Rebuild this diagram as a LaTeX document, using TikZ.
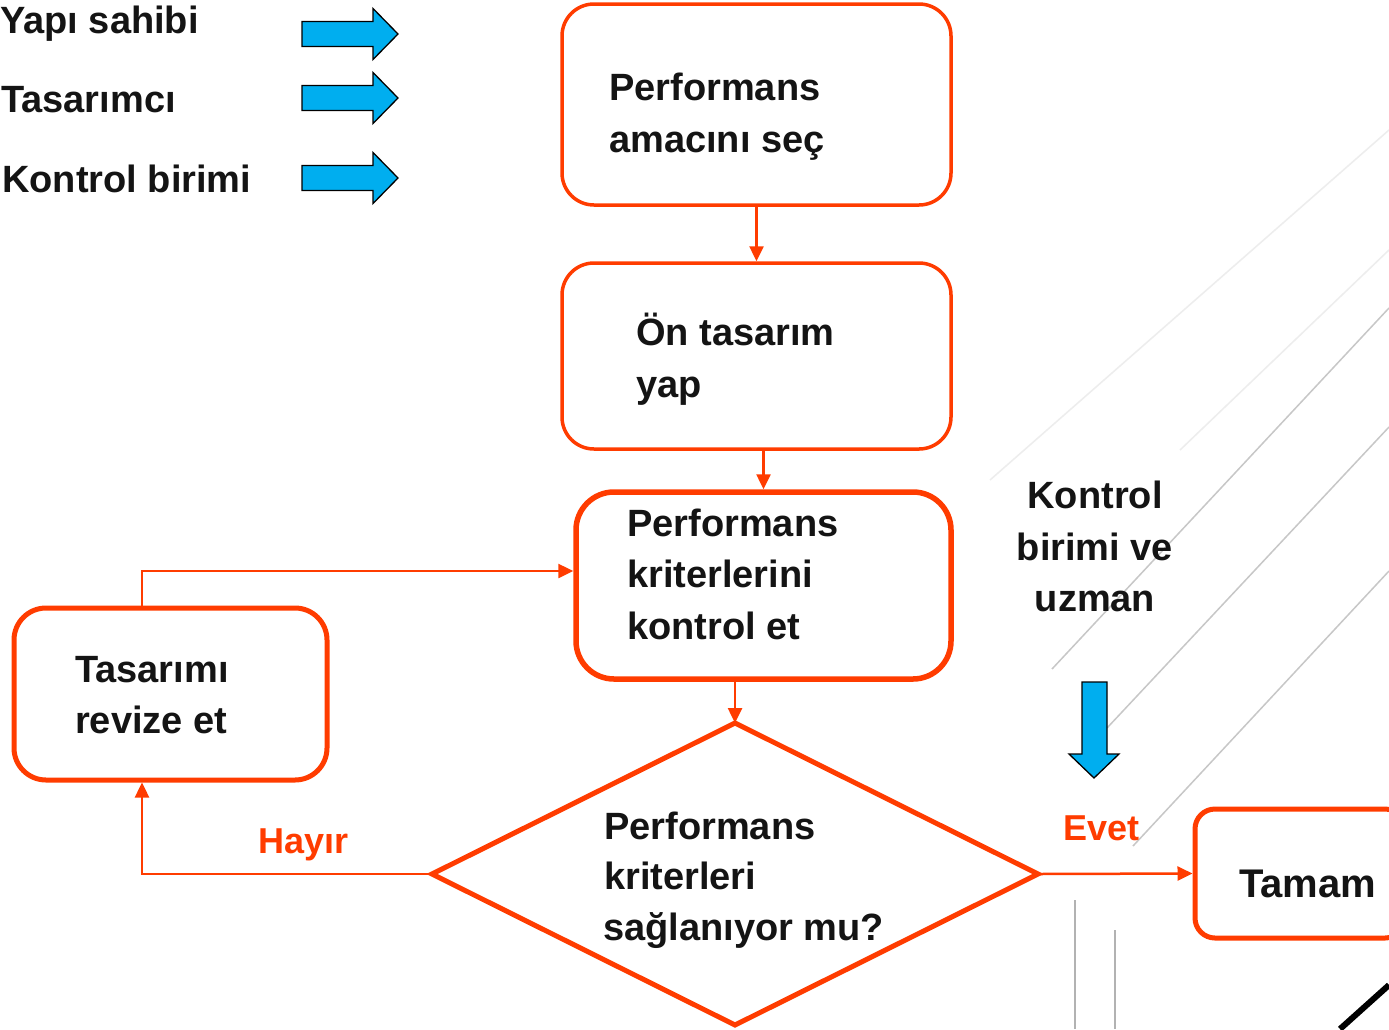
\documentclass[tikz,border=0pt]{standalone}
\usepackage{fontspec}
\setmainfont{Liberation Sans}
\usetikzlibrary{arrows.meta}
\definecolor{fred}{RGB}{255,60,0}
\definecolor{fblue}{RGB}{0,174,239}
\begin{document}
\begin{tikzpicture}[x=1pt,y=-1pt,
  box/.style={draw=fred, rounded corners=32pt, line width=3.5pt, inner sep=0pt},
  thickbox/.style={box, line width=5.5pt},
  conn/.style={draw=fred, line width=2.5pt, -{Triangle[length=15pt,width=14pt]}},
  txt/.style={font=\fontsize{38}{46}\selectfont\bfseries, inner sep=0pt, anchor=base west, text=black!92},
  redtxt/.style={txt, font=\fontsize{36}{44}\selectfont\bfseries, text=fred},
  bluearr/.style={fill=fblue, draw=black, line width=1.3pt, line join=miter},
  bgline/.style={draw=black!22, line width=1.5pt}
]
\useasboundingbox (0,0) rectangle (1389,1029);
\fill[white] (0,0) rectangle (1389,1029);

% faint background lines
\draw[bgline] (1052,669) -- (1389,308);
\draw[bgline] (1107,728) -- (1389,427);
\draw[bgline] (1133,846) -- (1389,571);
\draw[bgline, draw=black!7] (990,480) -- (1389,130);
\draw[bgline, draw=black!7] (1180,450) -- (1389,250);
\draw[bgline, draw=black!30] (1075,900) -- (1075,1029);
\draw[bgline, draw=black!30] (1115,930) -- (1115,1029);
\draw[draw=black, line width=6pt] (1340,1029) -- (1389,985);

% boxes
\node[box, minimum width=389pt, minimum height=201pt] (b1) at (756.5,104.5) {};
\node[box, minimum width=389pt, minimum height=186pt] (b2) at (756.5,356) {};
\node[thickbox, rounded corners=38pt, minimum width=375pt, minimum height=187pt] (b3) at (763.5,585.5) {};
\node[thickbox, line width=5pt, minimum width=313pt, minimum height=172pt] (b4) at (170.5,694) {};
\node[thickbox, line width=5pt, rounded corners=20pt, minimum width=210pt, minimum height=129pt] (tamam) at (1300,873.5) {};

% diamond
\coordinate (dtop) at (735,723);
\coordinate (dleft) at (432,874);
\coordinate (dright) at (1038,874);
\coordinate (dbot) at (735,1025);
\draw[draw=fred, line width=5pt, line join=miter] (dtop) -- (dright) -- (dbot) -- (dleft) -- cycle;

% texts
\node[txt] (t1a) at (609,100) {Performans};
\node[txt] (t1b) at (609,152) {amacını seç};
\node[txt] (t2a) at (636,345) {Ön tasarım};
\node[txt] (t2b) at (636,397) {yap};
\node[txt] (t3a) at (627,536) {Performans};
\node[txt] (t3b) at (627,587) {kriterlerini};
\node[txt] (t3c) at (627,639) {kontrol et};
\node[txt] (t4a) at (75,682) {Tasarımı};
\node[txt] (t4b) at (75,733) {revize et};
\node[txt] (tda) at (604,839) {Performans};
\node[txt] (tdb) at (604,889) {kriterleri};
\node[txt] (tdc) at (603,940) {sağlanıyor mu?};
\node[txt, font=\fontsize{40}{46}\selectfont\bfseries] (tt) at (1239,897) {Tamam};
\node[txt, anchor=base] (k1) at (1095,508) {Kontrol};
\node[txt, anchor=base] (k2) at (1095,560) {birimi ve};
\node[txt, anchor=base] (k3) at (1095,611) {uzman};
\node[txt] (l1) at (0,33) {Yapı sahibi};
\node[txt] (l2) at (1,112) {Tasarımcı};
\node[txt] (l3) at (2,192) {Kontrol birimi};
\node[redtxt] (hayir) at (258,853) {Hayır};
\node[redtxt] (evet) at (1063,840) {Evet};

% connectors
\draw[conn] (b1.south) -- (b2.north);
\draw[conn] (b3.north |- b2.south) -- (b3.north);
\draw[conn] (dtop |- b3.south) -- (dtop);
\coordinate (loopstart) at ([xshift=-28.5pt]b4.north);
\draw[conn] (loopstart) |- ([yshift=14.5pt]b3.west);
\coordinate (hayirend) at ([xshift=-28.5pt]b4.south);
\draw[conn] (dleft) -| (hayirend);
\draw[conn] (dright) -- (tamam.west);

% blue block arrows
\foreach \c in {34,98,178}
  \draw[bluearr] (302,\c-12.5) -- (373,\c-12.5) -- (373,\c-25.5) -- (398,\c) -- (373,\c+25.5) -- (373,\c+12.5) -- (302,\c+12.5) -- cycle;
\draw[bluearr] (1082,682) -- (1107,682) -- (1107,754) -- (1119,754) -- (1094,778) -- (1069,754) -- (1082,754) -- cycle;
\end{tikzpicture}
\end{document}
